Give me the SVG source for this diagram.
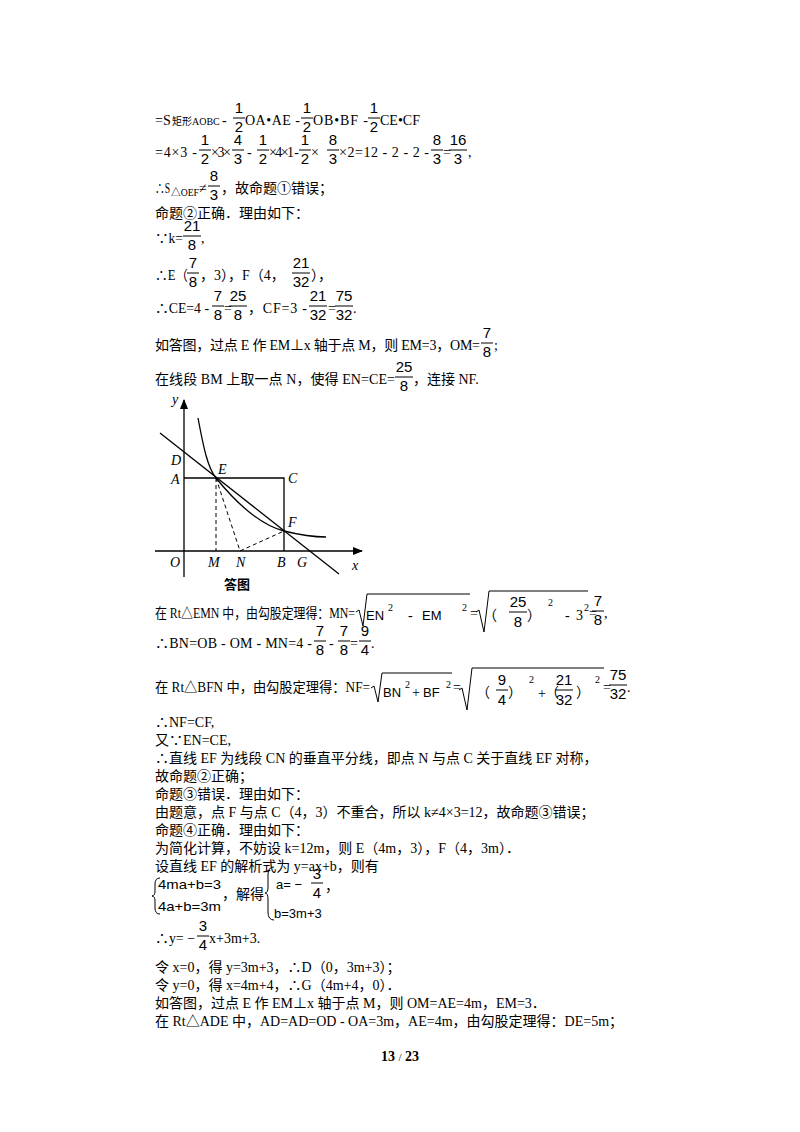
<svg xmlns="http://www.w3.org/2000/svg" width="800" height="1132" viewBox="0 0 800 1132">
<style>
text{font-family:"Liberation Serif","Noto Sans CJK SC",serif;font-size:14px;fill:#000}
.n{font-family:"Liberation Sans","DejaVu Sans",sans-serif;font-size:15px;text-anchor:middle}
.s{font-size:10px}
.sup{font-size:10px}
.m{font-family:"Liberation Sans",sans-serif;font-size:13px}
.lab{font-style:italic;font-size:14px}
.bar{stroke:#000;stroke-width:1}
.ax{stroke:#000;stroke-width:1.3;fill:none}
.ds{stroke:#000;stroke-width:1;stroke-dasharray:4,3;fill:none}
.rad{stroke:#000;stroke-width:1;fill:none}
</style>
<defs><marker id="ar" viewBox="0 0 10 10" refX="9" refY="5" markerWidth="8" markerHeight="8" orient="auto"><path d="M0,1 L10,5 L0,9 z" fill="#000"/></marker></defs>
<rect width="800" height="1132" fill="#fff"/>

<g id="text-top">
<text x="155" y="125">=S</text><text x="172" y="125" class="s">矩形AOBC</text><text x="222" y="125">-</text>
<text class="n" x="239" y="113">1</text><line class="bar" x1="233" x2="245" y1="118" y2="118"/><text class="n" x="239" y="132">2</text>
<text x="245" y="125" textLength="55">OA•AE -</text>
<text class="n" x="307" y="113">1</text><line class="bar" x1="301" x2="313" y1="118" y2="118"/><text class="n" x="307" y="132">2</text>
<text x="313" y="125" textLength="55">OB•BF -</text>
<text class="n" x="374" y="113">1</text><line class="bar" x1="368" x2="380" y1="118" y2="118"/><text class="n" x="374" y="132">2</text>
<text x="380" y="125">CE•CF</text>

<text x="155" y="157" textLength="42">=4×3 -</text>
<text class="n" x="205" y="145">1</text><line class="bar" x1="199" x2="211" y1="150" y2="150"/><text class="n" x="205" y="164">2</text>
<text x="211" y="157" textLength="20">×3×</text>
<text class="n" x="238" y="145">4</text><line class="bar" x1="232" x2="244" y1="150" y2="150"/><text class="n" x="238" y="164">3</text>
<text x="247" y="157">-</text>
<text class="n" x="263" y="145">1</text><line class="bar" x1="257" x2="269" y1="150" y2="150"/><text class="n" x="263" y="164">2</text>
<text x="269" y="157" textLength="30">×4×1 -</text>
<text class="n" x="305" y="145">1</text><line class="bar" x1="299" x2="311" y1="150" y2="150"/><text class="n" x="305" y="164">2</text>
<text x="311" y="157">×</text>
<text class="n" x="333" y="145">8</text><line class="bar" x1="327" x2="339" y1="150" y2="150"/><text class="n" x="333" y="164">3</text>
<text x="339" y="157" textLength="90">×2=12 - 2 - 2 -</text>
<text class="n" x="437" y="145">8</text><line class="bar" x1="431" x2="443" y1="150" y2="150"/><text class="n" x="437" y="164">3</text>
<text x="443" y="157">=</text>
<text class="n" x="458" y="145">16</text><line class="bar" x1="449" x2="467" y1="150" y2="150"/><text class="n" x="458" y="164">3</text>
<text x="468" y="157">,</text>

<text x="155" y="193" textLength="15" lengthAdjust="spacingAndGlyphs">∴S</text><text x="171" y="196" class="s" textLength="28" lengthAdjust="spacingAndGlyphs">△OEF</text><text x="199" y="193">≠</text>
<text class="n" x="214" y="181">8</text><line class="bar" x1="208" x2="220" y1="186" y2="186"/><text class="n" x="214" y="200">3</text>
<text x="221" y="193">，故命题①错误；</text>

<text x="155" y="218">命题②正确．理由如下：</text>

<text x="155" y="243" textLength="28" lengthAdjust="spacingAndGlyphs">∵k=</text>
<text class="n" x="192" y="231">21</text><line class="bar" x1="183" x2="201" y1="236" y2="236"/><text class="n" x="192" y="250">8</text>
<text x="201" y="243">,</text>

<text x="155" y="280" textLength="33" lengthAdjust="spacingAndGlyphs">∴E（</text>
<text class="n" x="193" y="268">7</text><line class="bar" x1="187" x2="199" y1="273" y2="273"/><text class="n" x="193" y="287">8</text>
<text x="200" y="280">，3），F（4，</text>
<text class="n" x="301" y="268">21</text><line class="bar" x1="292" x2="310" y1="273" y2="273"/><text class="n" x="301" y="287">32</text>
<text x="311" y="280">），</text>

<text x="155" y="313" textLength="54" lengthAdjust="spacingAndGlyphs">∴CE=4 -</text>
<text class="n" x="218" y="301">7</text><line class="bar" x1="212" x2="224" y1="306" y2="306"/><text class="n" x="218" y="320">8</text>
<text x="224" y="313">=</text>
<text class="n" x="238" y="301">25</text><line class="bar" x1="229" x2="247" y1="306" y2="306"/><text class="n" x="238" y="320">8</text>
<text x="248" y="313" textLength="59">，CF=3 -</text>
<text class="n" x="318" y="301">21</text><line class="bar" x1="309" x2="327" y1="306" y2="306"/><text class="n" x="318" y="320">32</text>
<text x="328" y="313">=</text>
<text class="n" x="344" y="301">75</text><line class="bar" x1="335" x2="353" y1="306" y2="306"/><text class="n" x="344" y="320">32</text>
<text x="353" y="313">.</text>

<text x="155" y="350" textLength="325">如答图，过点 E 作 EM⊥x 轴于点 M，则 EM=3，OM=</text>
<text class="n" x="487" y="338">7</text><line class="bar" x1="481" x2="493" y1="343" y2="343"/><text class="n" x="487" y="357">8</text>
<text x="494" y="350">;</text>

<text x="155" y="384" textLength="240">在线段 BM 上取一点 N，使得 EN=CE=</text>
<text class="n" x="404" y="372">25</text><line class="bar" x1="395" x2="413" y1="377" y2="377"/><text class="n" x="404" y="391">8</text>
<text x="413" y="384">，连接 NF.</text>
</g>

<g id="figure">
<line class="ax" x1="184" y1="577" x2="184" y2="400" marker-end="url(#ar)"/>
<line class="ax" x1="155" y1="551" x2="362" y2="551" marker-end="url(#ar)"/>
<polyline class="ax" points="184,478 284,478 284,551"/>
<line class="ax" x1="160" y1="433" x2="339" y2="574"/>
<path class="ax" d="M198,418 C204,450 208,468 216,478 C238,505 260,525 284,531 C300,535 315,537 326,537"/>
<line class="ds" x1="216" y1="478" x2="216" y2="551"/>
<polyline class="ds" points="216,478 240,551 284,531"/>
<text class="lab" x="171" y="465">D</text>
<text class="lab" x="171" y="484">A</text>
<text class="lab" x="218" y="474">E</text>
<text class="lab" x="288" y="483">C</text>
<text class="lab" x="288" y="527">F</text>
<text class="lab" x="170" y="567">O</text>
<text class="lab" x="208" y="567">M</text>
<text class="lab" x="236" y="567">N</text>
<text class="lab" x="277" y="567">B</text>
<text class="lab" x="297" y="567">G</text>
<text class="lab" x="352" y="570">x</text>
<text class="lab" x="172" y="404">y</text>
<text x="224" y="589" style="font-weight:bold;font-size:13px">答图</text>
</g>

<g id="text-mid">
<text x="155" y="618" textLength="200" lengthAdjust="spacingAndGlyphs">在 Rt△EMN 中，由勾股定理得：MN=</text>
<polyline class="rad" points="356,612 359,610 363,626 367,594 470,594"/>
<text x="366" y="620" class="m">EN</text><text x="388" y="611" class="sup">2</text><text x="408" y="620">-</text><text x="422" y="620" class="m">EM</text><text x="462" y="611" class="sup">2</text>
<text x="470" y="618">=</text>
<polyline class="rad" points="476,612 479,610 484,632 489,591 588,591"/>
<text x="483" y="620">（</text>
<text class="n" x="518" y="607">25</text><line class="bar" x1="509" x2="527" y1="612" y2="612"/><text class="n" x="518" y="627">8</text>
<text x="527" y="620">）</text>
<text x="548" y="606" class="sup">2</text>
<text x="565" y="620">-</text><text x="576" y="620">3</text><text x="584" y="611" class="sup">2</text>
<text x="589" y="618">=</text>
<text class="n" x="598" y="606">7</text><line class="bar" x1="592" x2="604" y1="611" y2="611"/><text class="n" x="598" y="625">8</text>
<text x="604" y="618">,</text>

<text x="155" y="648" textLength="157">∴BN=OB - OM - MN=4 -</text>
<text class="n" x="320" y="636">7</text><line class="bar" x1="314" x2="326" y1="641" y2="641"/><text class="n" x="320" y="655">8</text>
<text x="329" y="648">-</text>
<text class="n" x="344" y="636">7</text><line class="bar" x1="338" x2="350" y1="641" y2="641"/><text class="n" x="344" y="655">8</text>
<text x="350" y="648">=</text>
<text class="n" x="365" y="636">9</text><line class="bar" x1="359" x2="371" y1="641" y2="641"/><text class="n" x="365" y="655">4</text>
<text x="371" y="648">.</text>

<text x="155" y="692" textLength="215" lengthAdjust="spacingAndGlyphs">在 Rt△BFN 中，由勾股定理得：NF=</text>
<polyline class="rad" points="371,688 374,686 378,702 382,673 452,673"/>
<text x="383" y="697" class="m">BN</text><text x="405" y="688" class="sup">2</text><text x="412" y="697">+</text><text x="423" y="697" class="m">BF</text><text x="446" y="688" class="sup">2</text>
<text x="453" y="692">=</text>
<polyline class="rad" points="459,690 462,688 467,710 472,668 604,668"/>
<text x="476" y="697">（</text>
<text class="n" x="502" y="685">9</text><line class="bar" x1="496" x2="508" y1="690" y2="690"/><text class="n" x="502" y="705">4</text>
<text x="508" y="697">）</text>
<text x="529" y="683" class="sup">2</text>
<text x="538" y="698">+</text>
<text x="545" y="697">（</text>
<text class="n" x="564" y="685">21</text><line class="bar" x1="555" x2="573" y1="690" y2="690"/><text class="n" x="564" y="705">32</text>
<text x="576" y="697">）</text>
<text x="595" y="683" class="sup">2</text>
<text x="603" y="692">=</text>
<text class="n" x="618" y="680">75</text><line class="bar" x1="609" x2="627" y1="685" y2="685"/><text class="n" x="618" y="699">32</text>
<text x="627" y="692">.</text>
</g>

<g id="text-bottom">
<text x="155" y="727">∴NF=CF,</text>
<text x="155" y="745">又∵EN=CE,</text>
<text x="155" y="763">∴直线 EF 为线段 CN 的垂直平分线，即点 N 与点 C 关于直线 EF 对称，</text>
<text x="155" y="781">故命题②正确；</text>
<text x="155" y="799">命题③错误．理由如下：</text>
<text x="155" y="817">由题意，点 F 与点 C（4，3）不重合，所以 k≠4×3=12，故命题③错误；</text>
<text x="155" y="835">命题④正确．理由如下：</text>
<text x="155" y="853">为简化计算，不妨设 k=12m，则 E（4m，3），F（4，3m）．</text>
<text x="155" y="871">设直线 EF 的解析式为 y=ax+b，则有</text>

<path class="rad" d="M160,878 Q155,878 155,884 L155,891 Q155,896 152,896 Q155,896 155,901 L155,908 Q155,914 160,914"/>
<text x="158" y="889" class="m" textLength="63" lengthAdjust="spacingAndGlyphs">4ma+b=3</text>
<text x="158" y="911" class="m" textLength="63" lengthAdjust="spacingAndGlyphs">4a+b=3m</text>
<text x="222" y="899">，解得</text>
<path class="rad" d="M274,867 Q268,867 268,874 L268,887 Q268,893 265,893 Q268,893 268,899 L268,912 Q268,920 274,920"/>
<text x="276" y="889" class="m">a= −</text>
<text class="n" x="317" y="879">3</text><line class="bar" x1="311" x2="323" y1="883" y2="883"/><text class="n" x="317" y="898">4</text>
<text x="325" y="891">，</text>
<text x="274" y="918" class="m">b=3m+3</text>

<text x="155" y="943" textLength="40" lengthAdjust="spacingAndGlyphs">∴y= −</text>
<text class="n" x="203" y="931">3</text><line class="bar" x1="197" x2="209" y1="936" y2="936"/><text class="n" x="203" y="950">4</text>
<text x="209" y="943">x+3m+3.</text>

<text x="155" y="972">令 x=0，得 y=3m+3，∴D（0，3m+3）；</text>
<text x="155" y="990">令 y=0，得 x=4m+4，∴G（4m+4，0）．</text>
<text x="155" y="1008">如答图，过点 E 作 EM⊥x 轴于点 M，则 OM=AE=4m，EM=3．</text>
<text x="155" y="1026">在 Rt△ADE 中，AD=AD=OD - OA=3m，AE=4m，由勾股定理得：DE=5m；</text>

<text x="400" y="1061" style="font-weight:bold;font-size:14px;text-anchor:middle">13 <tspan style="font-weight:normal;font-size:11px">/</tspan> 23</text>
</g>
</svg>
